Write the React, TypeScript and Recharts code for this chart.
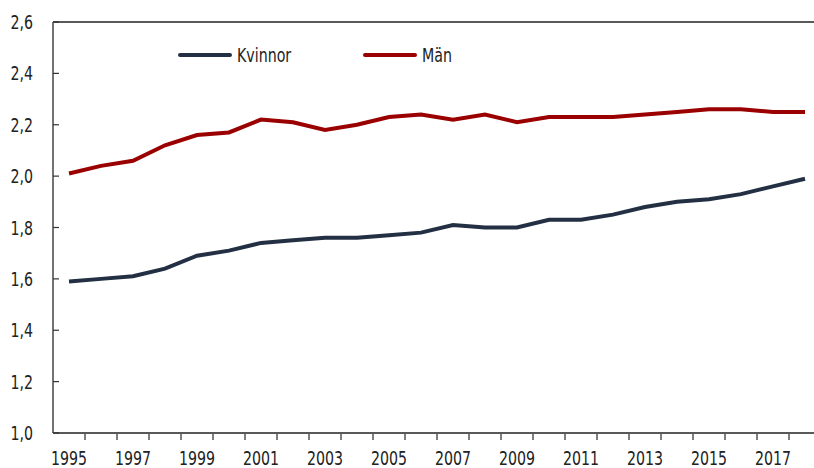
import React from "react";
import {
  Legend,
  Line,
  LineChart,
  ReferenceLine,
  XAxis,
  YAxis,
} from "recharts";

const years = [
  1995, 1996, 1997, 1998, 1999, 2000, 2001, 2002, 2003, 2004, 2005, 2006,
  2007, 2008, 2009, 2010, 2011, 2012, 2013, 2014, 2015, 2016, 2017, 2018,
];
const kvinnor = [
  1.59, 1.6, 1.61, 1.64, 1.69, 1.71, 1.74, 1.75, 1.76, 1.76, 1.77, 1.78,
  1.81, 1.8, 1.8, 1.83, 1.83, 1.85, 1.88, 1.9, 1.91, 1.93, 1.96, 1.99,
];
const man = [
  2.01, 2.04, 2.06, 2.12, 2.16, 2.17, 2.22, 2.21, 2.18, 2.2, 2.23, 2.24,
  2.22, 2.24, 2.21, 2.23, 2.23, 2.23, 2.24, 2.25, 2.26, 2.26, 2.25, 2.25,
];
const yTicks = [1.0, 1.2, 1.4, 1.6, 1.8, 2.0, 2.2, 2.4, 2.6];

const data = years.map((year, i) => ({
  year,
  Kvinnor: kvinnor[i],
  Män: man[i],
}));

// year labels at band centres, tick marks on the boundaries between years
const xTicks: number[] = [];
years.forEach((y, i) => {
  xTicks.push(y);
  if (i < years.length - 1) xTicks.push(y + 0.5);
});

const FONT = "'Liberation Sans Narrow', 'DejaVu Sans Condensed', sans-serif";
const TEXT = "#222";
const SQUEEZE = 0.83; // narrow the condensed font a bit more

function XTick(props: any) {
  const { x, y, payload } = props;
  const v = payload.value;
  if (Number.isInteger(v)) {
    if (v % 2 === 0) return null;
    return (
      <g transform={`translate(${x},${y + 32}) scale(${SQUEEZE},1)`}>
        <text x={0} y={0} textAnchor="middle" fill={TEXT} fontSize={19} fontFamily={FONT}>
          {v}
        </text>
      </g>
    );
  }
  return <line x1={x} x2={x} y1={y} y2={y + 7} stroke="#555" strokeWidth={1.5} />;
}

function YTick(props: any) {
  const { x, y, payload } = props;
  return (
    <g>
      <line x1={x} x2={x + 6} y1={y} y2={y} stroke="#333" strokeWidth={1.2} />
      <g transform={`translate(${x - 20},${y + 7}) scale(${SQUEEZE},1)`}>
        <text x={0} y={0} textAnchor="end" fill={TEXT} fontSize={19} fontFamily={FONT}>
          {Number(payload.value).toFixed(1).replace(".", ",")}
        </text>
      </g>
    </g>
  );
}

function LegendContent() {
  const items = [
    { name: "Kvinnor", color: "#233044" },
    { name: "Män", color: "#9b0000" },
  ];
  return (
    <div style={{ display: "flex", fontFamily: FONT, fontSize: 19, color: TEXT }}>
      {items.map((it) => (
        <div key={it.name} style={{ width: 185, display: "flex", alignItems: "center" }}>
          <svg width={54} height={6}>
            <line x1={2} x2={52} y1={3} y2={3} stroke={it.color} strokeWidth={4} strokeLinecap="round" />
          </svg>
          <span
            style={{
              marginLeft: 5,
              display: "inline-block",
              transform: `scaleX(${SQUEEZE})`,
              transformOrigin: "left center",
            }}
          >
            {it.name}
          </span>
        </div>
      ))}
    </div>
  );
}

export default function App() {
  return (
    <div style={{ position: "fixed", left: 0, top: 0, width: 814, height: 468, overflow: "hidden", background: "#fff" }}>
      <LineChart
        width={821}
        height={468}
        data={data}
        margin={{ top: 22, right: 0, left: 0, bottom: 0 }}
      >
        <ReferenceLine y={2.6} stroke="#222" strokeWidth={1.5} />
        <XAxis
          dataKey="year"
          type="number"
          domain={[1994.5, 2018.5]}
          ticks={xTicks}
          interval={0}
          allowDecimals
          height={35}
          tickSize={0}
          tickMargin={0}
          tickLine={false}
          tick={<XTick />}
          axisLine={{ stroke: "#222", strokeWidth: 1.5 }}
        />
        <YAxis
          domain={[1.0, 2.6]}
          ticks={yTicks}
          interval={0}
          width={53}
          tickSize={0}
          tickMargin={0}
          tickLine={false}
          tick={<YTick />}
          axisLine={{ stroke: "#444", strokeWidth: 1.5 }}
        />
        <Legend
          layout="horizontal"
          verticalAlign="middle"
          align="center"
          content={<LegendContent />}
          wrapperStyle={{ top: 44, left: 178, width: 400 }}
        />
        <Line
          dataKey="Kvinnor"
          stroke="#233044"
          strokeWidth={4}
          dot={false}
          isAnimationActive={false}
        />
        <Line
          dataKey="Män"
          stroke="#9b0000"
          strokeWidth={4}
          dot={false}
          isAnimationActive={false}
        />
      </LineChart>
    </div>
  );
}
